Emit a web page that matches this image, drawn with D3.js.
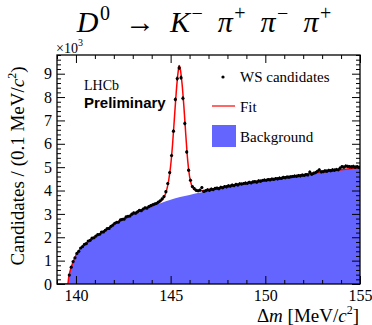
<!DOCTYPE html>
<html>
<head>
<meta charset="utf-8">
<script src="https://cdn.jsdelivr.net/npm/d3@7"></script>
<style>
  body { margin: 0; background: #fff; }
  text { font-family: 'Liberation Serif', 'DejaVu Serif', serif; }
  text.sans { font-family: 'Liberation Sans', Arial, sans-serif; font-weight: bold; }
</style>
</head>
<body>
<svg id="chart" width="372" height="325"></svg>
<script>
// WS candidates, 0.1 MeV bins, first bin centre 139.65
const firstBin = 139.65;
const binWidth = 0.1;
const counts = [
  380, 720, 960, 1120, 1310, 1400, 1540, 1600, 1700, 1730,
  1840, 1870, 1960, 1980, 2050, 2110, 2130, 2220, 2230, 2300,
  2370, 2380, 2470, 2520, 2600, 2640, 2650, 2740, 2770, 2780,
  2870, 2900, 2910, 2990, 3040, 3030, 3090, 3150, 3140, 3210,
  3260, 3250, 3310, 3350, 3390, 3420, 3450, 3500, 3560, 3640,
  3740, 3950, 4300, 4770, 5500, 6540, 7900, 8790, 9250, 8830,
  7950, 6870, 5650, 4870, 4440, 4170, 4080, 4010, 3990, 4020,
  4130, 3960, 3990, 4030, 4010, 4060, 4040, 4090, 4100, 4080,
  4140, 4120, 4170, 4160, 4200, 4190, 4230, 4210, 4260, 4240,
  4290, 4280, 4300, 4320, 4310, 4350, 4330, 4370, 4380, 4360,
  4410, 4400, 4430, 4450, 4440, 4470, 4460, 4490, 4480, 4510,
  4500, 4530, 4520, 4560, 4550, 4580, 4570, 4590, 4600, 4620,
  4610, 4640, 4630, 4660, 4650, 4680, 4670, 4790, 4700, 4740,
  4770, 4820, 4880, 4800, 4810, 4840, 4830, 4860, 4850, 4880,
  4870, 4900, 4890, 4960, 5020, 5000, 5050, 5030, 5020, 5010,
  5030, 5000, 5020, 4990
];

// total fit curve
const fitDm = [139.0, 139.57, 139.62, 139.7, 139.8, 139.9, 140.0, 140.2, 140.4, 140.6,
  140.8, 141.0, 141.3, 141.6, 142.0, 142.5, 143.0, 143.5, 144.0, 144.3,
  144.5, 144.6, 144.7, 144.8, 144.9, 145.0, 145.1, 145.2, 145.3, 145.4,
  145.45, 145.5, 145.6, 145.7, 145.8, 145.9, 146.0, 146.1, 146.2, 146.3,
  146.5, 146.8, 147.0, 147.5, 148.0, 149.0, 150.0, 151.0, 152.0, 153.0,
  154.0, 155.0];
const fitVal = [0, 0, 300, 580, 830, 1050, 1230, 1480, 1650, 1790,
  1910, 2020, 2170, 2310, 2560, 2780, 2990, 3180, 3350, 3450,
  3570, 3650, 3800, 4050, 4450, 5050, 5950, 7100, 8250, 9100,
  9350, 9250, 8600, 7600, 6400, 5300, 4600, 4250, 4100, 4030,
  3990, 4000, 4040, 4100, 4180, 4310, 4450, 4560, 4680, 4790,
  4890, 4985];

// background component
const bkgDm = [139.57, 139.62, 139.7, 139.8, 139.9, 140.0, 140.2, 140.4, 140.6, 140.8,
  141.0, 141.3, 141.6, 142.0, 142.5, 143.0, 143.5, 144.0, 144.5, 145.0,
  145.5, 146.0, 146.5, 147.0, 148.0, 149.0, 150.0, 151.0, 152.0, 153.0,
  154.0, 155.0];
const bkgVal = [0, 300, 580, 830, 1050, 1230, 1480, 1650, 1790, 1910,
  2020, 2170, 2310, 2560, 2760, 2970, 3160, 3320, 3470, 3610,
  3720, 3810, 3900, 3980, 4150, 4300, 4440, 4560, 4680, 4790,
  4890, 4980];

const yTicks = [0, 1000, 2000, 3000, 4000, 5000, 6000, 7000, 8000, 9000];
const xTicks = [140, 145, 150, 155];

const margin = { left: 57, right: 360, top: 55, bottom: 284 };
const blue = '#6464ff';

const svg = d3.select('#chart');
const x = d3.scaleLinear().domain([139, 155]).range([margin.left, margin.right]);
const y = d3.scaleLinear().domain([0, 9800]).range([margin.bottom, margin.top]);

svg.append('defs').append('clipPath').attr('id', 'frameclip')
  .append('rect')
  .attr('x', margin.left).attr('y', margin.top)
  .attr('width', margin.right - margin.left).attr('height', margin.bottom - margin.top);

const plot = svg.append('g').attr('clip-path', 'url(#frameclip)');

const bkg = bkgDm.map((d, i) => [d, bkgVal[i]]);
plot.append('path')
  .datum(bkg)
  .attr('fill', blue)
  .attr('d', d3.area().x(d => x(d[0])).y0(y(0)).y1(d => y(d[1])).curve(d3.curveMonotoneX));

const fit = fitDm.map((d, i) => [d, fitVal[i]]);
plot.append('path')
  .datum(fit)
  .attr('fill', 'none')
  .attr('stroke', '#ff0000')
  .attr('stroke-width', 1.5)
  .attr('d', d3.line().x(d => x(d[0])).y(d => y(d[1])).curve(d3.curveMonotoneX));

const points = counts.map((c, i) => ({ dm: firstBin + i * binWidth, n: c }));
const pts = plot.append('g').selectAll('g').data(points).enter().append('g');
pts.append('line')
  .attr('x1', d => x(d.dm)).attr('x2', d => x(d.dm))
  .attr('y1', d => y(d.n - Math.sqrt(d.n))).attr('y2', d => y(d.n + Math.sqrt(d.n)))
  .attr('stroke', '#000').attr('stroke-width', 1);
pts.append('line')
  .attr('x1', d => x(d.dm - binWidth / 2)).attr('x2', d => x(d.dm + binWidth / 2))
  .attr('y1', d => y(d.n)).attr('y2', d => y(d.n))
  .attr('stroke', '#000').attr('stroke-width', 1);
pts.append('circle')
  .attr('cx', d => x(d.dm)).attr('cy', d => y(d.n)).attr('r', 1.6)
  .attr('fill', '#000');

// axes, ticks inside the frame like ROOT
const yMinor = d3.range(0, 9801, 200).filter(v => v % 1000 !== 0);
const xMinor = d3.range(139, 156, 1).filter(v => v % 5 !== 0);

function styleAxis(g) {
  g.select('.domain').remove();
  g.selectAll('line').attr('stroke', '#000').attr('stroke-width', 1);
  g.selectAll('text').attr('font-size', 16).attr('fill', '#000');
}

svg.append('g').attr('transform', `translate(${margin.left},0)`)
  .call(d3.axisLeft(y).tickValues(yTicks).tickSize(-8).tickPadding(5).tickFormat(d => d / 1000))
  .call(styleAxis);
svg.append('g').attr('transform', `translate(${margin.left},0)`)
  .call(d3.axisLeft(y).tickValues(yMinor).tickSize(-4).tickFormat(''))
  .call(styleAxis);
svg.append('g').attr('transform', `translate(${margin.right},0)`)
  .call(d3.axisRight(y).tickValues(yTicks).tickSize(-8).tickFormat(''))
  .call(styleAxis);
svg.append('g').attr('transform', `translate(${margin.right},0)`)
  .call(d3.axisRight(y).tickValues(yMinor).tickSize(-4).tickFormat(''))
  .call(styleAxis);

svg.append('g').attr('transform', `translate(0,${margin.bottom})`)
  .call(d3.axisBottom(x).tickValues(xTicks).tickSize(-8).tickPadding(6).tickFormat(d3.format('d')))
  .call(styleAxis);
svg.append('g').attr('transform', `translate(0,${margin.bottom})`)
  .call(d3.axisBottom(x).tickValues(xMinor).tickSize(-4).tickFormat(''))
  .call(styleAxis);
svg.append('g').attr('transform', `translate(0,${margin.top})`)
  .call(d3.axisTop(x).tickValues(xTicks).tickSize(-8).tickFormat(''))
  .call(styleAxis);
svg.append('g').attr('transform', `translate(0,${margin.top})`)
  .call(d3.axisTop(x).tickValues(xMinor).tickSize(-4).tickFormat(''))
  .call(styleAxis);

svg.append('rect')
  .attr('x', margin.left).attr('y', margin.top)
  .attr('width', margin.right - margin.left).attr('height', margin.bottom - margin.top)
  .attr('fill', 'none').attr('stroke', '#000').attr('stroke-width', 1.3);

// title: each glyph with its superscript right after it, groups separated by a gap
const titleGroups = [
  { main: 'D', it: true, sup: '0' },
  { main: '\u2192', it: false },
  { main: 'K', it: true, sup: '\u2212' },
  { main: '\u03c0', it: true, sup: '+' },
  { main: '\u03c0', it: true, sup: '\u2212' },
  { main: '\u03c0', it: true, sup: '+' }
];
const titleGap = 15;
const titleG = svg.append('g');
let cursor = 0;
titleGroups.forEach(g => {
  const m = titleG.append('text').attr('x', cursor).attr('y', 32).attr('font-size', 30)
    .attr('font-style', g.it ? 'italic' : 'normal').text(g.main);
  cursor += m.node().getComputedTextLength() + (g.it ? 1.5 : 0);
  if (g.sup) {
    const s = titleG.append('text').attr('x', cursor).attr('y', 20).attr('font-size', 20).text(g.sup);
    cursor += s.node().getComputedTextLength();
  }
  cursor += titleGap;
});
cursor -= titleGap;
titleG.attr('transform', `translate(${204 - cursor / 2},0)`);

// exponent
const expo = svg.append('text').attr('x', 56).attr('y', 53).attr('font-size', 14);
expo.append('tspan').text('\u00d710');
expo.append('tspan').attr('font-size', 10).attr('dy', -7).text('3');

// y title
const ytitle = svg.append('text')
  .attr('transform', 'translate(24,166) rotate(-90)')
  .attr('text-anchor', 'middle').attr('font-size', 19);
ytitle.append('tspan').text('Candidates / (0.1 MeV/');
ytitle.append('tspan').attr('font-style', 'italic').text('c');
ytitle.append('tspan').attr('font-size', 12).attr('dy', -8).text('2');
ytitle.append('tspan').attr('dy', 8).text(')');

// x title
const xtitle = svg.append('text').attr('x', 359).attr('y', 322)
  .attr('text-anchor', 'end').attr('font-size', 19);
xtitle.append('tspan').text('\u0394');
xtitle.append('tspan').attr('font-style', 'italic').text('m');
xtitle.append('tspan').text(' [MeV/');
xtitle.append('tspan').attr('font-style', 'italic').text('c');
xtitle.append('tspan').attr('font-size', 12).attr('dy', -8).text('2');
xtitle.append('tspan').attr('dy', 8).text(']');

// LHCb label
svg.append('text').attr('x', 84).attr('y', 90).attr('font-size', 14).text('LHCb');
svg.append('text').attr('class', 'sans').attr('x', 84).attr('y', 108).attr('font-size', 15)
  .text('Preliminary');

// legend
const legend = svg.append('g');
legend.append('circle').attr('cx', 223).attr('cy', 77).attr('r', 1.6).attr('fill', '#000');
legend.append('text').attr('x', 240).attr('y', 82).attr('font-size', 15).text('WS candidates');
legend.append('line').attr('x1', 212).attr('x2', 235).attr('y1', 106).attr('y2', 106)
  .attr('stroke', '#ff0000').attr('stroke-width', 1.2);
legend.append('text').attr('x', 240).attr('y', 112).attr('font-size', 15).text('Fit');
legend.append('rect').attr('x', 212).attr('y', 125).attr('width', 24).attr('height', 22).attr('fill', blue);
legend.append('text').attr('x', 240).attr('y', 142).attr('font-size', 15).text('Background');
</script>
</body>
</html>
